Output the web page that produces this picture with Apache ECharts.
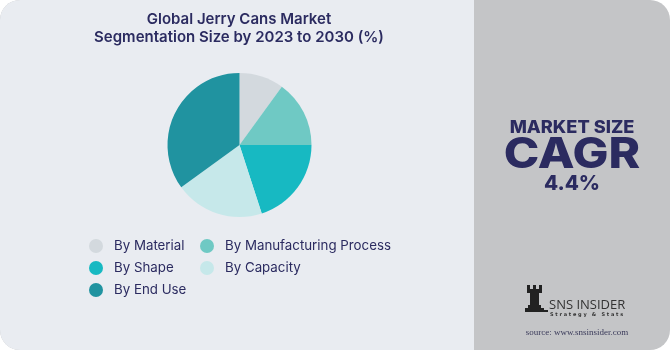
<!DOCTYPE html>
<html><head><meta charset="utf-8">
<script src="https://cdn.jsdelivr.net/npm/echarts@6/dist/echarts.min.js"></script>
<style>html,body{margin:0;padding:0;background:#fff;}#c{width:670px;height:350px;}</style>
</head><body><div id="c"></div>
<script>
const categories = ['By Material','By Manufacturing Process','By Shape','By Capacity','By End Use'];
const values = [10, 15, 20, 20, 35];
const colors = ['#d3d9de','#6fc9c4','#17b9c2','#c6e8ea','#2093a0'];
const titleLines = ['Global Jerry Cans Market','Segmentation Size by 2023 to 2030 (%)'];
const sideTexts = ['MARKET SIZE','CAGR','4.4%'];

const navy = '#2b2b60';
const chart = echarts.init(document.getElementById('c'));
chart.setOption({
  animation:false,
  graphic:[
    {type:'rect',z:-10,shape:{x:0,y:0,width:670,height:350,r:20},style:{fill:'#c4c5c7'}},
    {type:'rect',z:-9,shape:{x:0,y:0,width:474,height:350,r:[20,0,0,20]},style:{fill:'#e9ecf1'}},
    {type:'text',style:{x:239,y:19,text:titleLines[0],font:'600 15px Inter',fill:navy,align:'center',verticalAlign:'middle'}},
    {type:'text',style:{x:239,y:37,text:titleLines[1],font:'600 15px Inter',fill:navy,align:'center',verticalAlign:'middle'}},
    {type:'text',x:572,y:128,scaleX:1.07,style:{x:0,y:0,text:sideTexts[0],font:'800 17px Inter',fill:navy,align:'center',verticalAlign:'middle'}},
    {type:'text',x:572,y:155,scaleX:1.14,style:{x:0,y:0,text:sideTexts[1],font:'800 42px Inter',fill:navy,align:'center',verticalAlign:'middle'}},
    {type:'text',x:572,y:184,scaleX:1.03,style:{x:0,y:0,text:sideTexts[2],font:'800 20px Inter',fill:navy,align:'center',verticalAlign:'middle'}},
    {type:'group',children:[
      {type:'rect',shape:{x:527,y:285,width:3,height:4},style:{fill:'#222'}},
      {type:'rect',shape:{x:533,y:285,width:3,height:4},style:{fill:'#222'}},
      {type:'rect',shape:{x:539,y:285,width:3,height:4},style:{fill:'#222'}},
      {type:'rect',shape:{x:527,y:289,width:15,height:4},style:{fill:'#222'}},
      {type:'rect',shape:{x:530,y:293,width:9,height:12},style:{fill:'#222'}},
      {type:'rect',shape:{x:528,y:305,width:13,height:3},style:{fill:'#222'}},
      {type:'rect',shape:{x:525,y:308,width:19,height:4},style:{fill:'#222'}},
      {type:'rect',shape:{x:544,y:310,width:4,height:2},style:{fill:'#222'}}
    ]},
    {type:'text',style:{x:549,y:305,text:'SNS INSIDER',font:'500 13px "Open Sans"',fill:'#333',align:'left',verticalAlign:'middle'}},
    {type:'text',style:{x:550,y:315,text:'S t r a t e g y   &   S t a t s',font:'bold 5px "DejaVu Sans"',fill:'#333',align:'left',verticalAlign:'middle'}},
    {type:'text',style:{x:577,y:333,text:'source: www.snsinsider.com',font:'9px "Liberation Serif"',fill:'#3a3a5a',align:'center',verticalAlign:'middle'}}
  ],
  legend:[
    {orient:'vertical',left:84,top:234,itemGap:8,itemWidth:14,itemHeight:14,icon:'circle',
     data:[categories[0],categories[2],categories[4]],
     textStyle:{color:navy,fontSize:13.3,fontFamily:'Inter',padding:[0,0,0,6]}},
    {orient:'vertical',left:195,top:234,itemGap:8,itemWidth:14,itemHeight:14,icon:'circle',
     data:[categories[1],categories[3]],
     textStyle:{color:navy,fontSize:13.3,fontFamily:'Inter',padding:[0,0,0,6]}}
  ],
  series:[{
    type:'pie',center:[239.5,145],radius:[0,72],startAngle:90,clockwise:true,
    label:{show:false},labelLine:{show:false},
    itemStyle:{borderWidth:0},
    emphasis:{disabled:true},
    data:categories.map((n,i)=>({name:n,value:values[i],itemStyle:{color:colors[i]}}))
  }]
});
</script></body></html>
